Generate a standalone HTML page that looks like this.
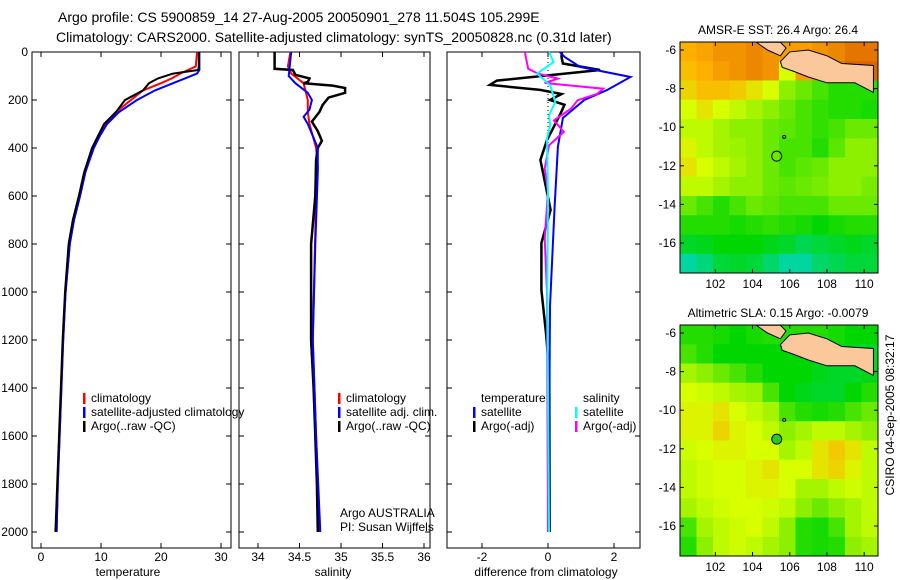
<!DOCTYPE html>
<html><head><meta charset="utf-8"><style>
body{margin:0;background:#fff}
svg{display:block;font-family:"Liberation Sans",sans-serif}
</style></head><body>
<svg id="c" width="900" height="580">
<text x="58" y="22" font-size="14">Argo profile: CS 5900859_14 27-Aug-2005 20050901_278 11.504S 105.299E</text>
<text x="56" y="42" font-size="14">Climatology: CARS2000. Satellite-adjusted climatology: synTS_20050828.nc (0.31d later)</text>
<text transform="translate(894,415) rotate(-90)" text-anchor="middle" font-size="12">CSIRO 04-Sep-2005 08:32:17</text>
</svg>
<script>
const svg=document.getElementById('c');const NS='http://www.w3.org/2000/svg';
function mk(t,a,txt){const e=document.createElementNS(NS,t);for(const k in a)e.setAttribute(k,a[k]);if(txt!=null)e.textContent=txt;svg.appendChild(e);return e;}
// ---- data ----
const tempP=[0,60,75,90,110,130,160,200,250,300,350,400,500,600,700,800,1000,1200,1400,1600,1800,2000];
const tempArgo=[26.3,26.3,26.2,22,19.5,18,17,14,12.5,10.5,9.5,8.5,7.2,6.3,5.3,4.6,4.0,3.6,3.3,3.0,2.7,2.4];
const tempClim=[26.0,25.8,24.5,23.2,21.8,20,17,15,12.5,10.8,9.6,8.7,7.4,6.5,5.5,4.8,4.1,3.7,3.4,3.1,2.8,2.6];
const tempSat=[26.4,26.4,26.4,26,24,22,19,16,13,11,9.8,8.8,7.4,6.5,5.5,4.8,4.1,3.7,3.4,3.1,2.8,2.6];
const salP=[0,70,75,95,110,125,130,140,150,170,190,220,250,290,330,370,400,450,600,800,1000,1200,1400,1600,1800,2000];
const salArgo=[34.2,34.2,34.42,34.45,34.62,34.6,34.55,34.9,35.05,35.05,34.85,34.78,34.74,34.65,34.72,34.77,34.72,34.7,34.69,34.64,34.64,34.64,34.67,34.69,34.71,34.72];
const salClimP=[0,60,90,130,200,250,300,400,480,600,1200,1600,2000];
const salClim=[34.39,34.36,34.4,34.55,34.6,34.6,34.62,34.7,34.72,34.7,34.66,34.7,34.74];
const salSatP=[0,100,130,170,200,240,270,300,400,500,800,1200,1600,2000];
const salSat=[34.4,34.37,34.45,34.6,34.65,34.62,34.55,34.6,34.72,34.72,34.69,34.66,34.7,34.75];
const dTsP=[0,20,62,104,158,200,275,395,645,1060,1500,2000];
const dTsat=[0.36,0.5,0.97,2.5,1.8,1.1,0.45,0.3,0.2,0.06,0.04,0.03];
const dTaP=[0,20,48,75,119,137,158,175,200,220,262,367,450,658,796,992,1171,1338,2000];
const dTargo=[0.42,0.41,0.45,1.58,-1.55,-1.76,-0.24,0.41,0.06,0.5,0.36,-0.03,-0.23,0.08,-0.2,-0.2,-0.06,0.04,0.05];
const dSsP=[0,42,90,139,208,264,306,361,600,1000,2000];
const dSsat=[0.03,0.17,-0.33,0.07,0.22,0.03,0.07,-0.03,0.0,-0.02,0.03];
const dSaP=[0,35,70,90,111,129,153,174,201,236,285,333,389,486,583,778,1000,2000];
const dSargo=[-0.7,-0.65,-0.6,-0.3,0.3,-0.1,1.67,1.5,0.9,0.7,0.18,0.48,0.03,-0.1,0,-0.1,-0.03,0];
const depthTicks=[0,200,400,600,800,1000,1200,1400,1600,1800,2000];
const tTicks=[0,10,20,30];const sTicks=['34','34.5','35','35.5','36'];const dTicks=[-2,0,2];
const lonTicks=[102,104,106,108,110];const latTicks=[-6,-8,-10,-12,-14,-16];
const sstGrid=[
[.75,.77,.8,.8,.82,.8,.78,.78,.8,.82,.85,.85],
[.72,.75,.78,.8,.82,.8,.6,.78,.8,.85,.88,.88],
[.68,.72,.72,.7,.65,.6,.45,.4,.35,.3,.3,.3],
[.6,.65,.6,.55,.5,.45,.4,.35,.32,.3,.3,.28],
[.55,.55,.5,.45,.45,.4,.38,.35,.32,.35,.4,.4],
[.62,.55,.5,.48,.45,.4,.35,.35,.3,.38,.45,.45],
[.65,.6,.55,.5,.45,.4,.35,.38,.4,.45,.45,.45],
[.55,.55,.5,.45,.45,.4,.38,.4,.42,.45,.45,.42],
[.4,.35,.3,.35,.4,.38,.35,.35,.35,.4,.4,.4],
[.3,.3,.3,.28,.3,.32,.3,.28,.25,.28,.3,.3],
[.2,.22,.25,.25,.25,.22,.2,.15,.18,.2,.22,.2],
[.05,.1,.18,.2,.18,.12,.05,.05,.12,.15,.18,.18]];
const slaGrid=[
[.3,.3,.28,.25,.28,.3,.3,.3,.3,.28,.25,.25],
[.35,.3,.25,.25,.25,.25,.25,.25,.25,.22,.2,.2],
[.5,.45,.4,.35,.3,.25,.25,.25,.22,.2,.2,.22],
[.6,.58,.55,.5,.48,.35,.25,.22,.2,.2,.25,.3],
[.62,.62,.65,.6,.55,.5,.35,.3,.28,.3,.35,.4],
[.62,.62,.68,.62,.6,.55,.45,.5,.55,.55,.5,.45],
[.58,.6,.62,.62,.6,.6,.5,.55,.65,.7,.65,.55],
[.55,.58,.6,.6,.62,.65,.6,.6,.65,.68,.62,.55],
[.55,.58,.6,.6,.62,.62,.6,.5,.5,.55,.58,.55],
[.5,.55,.58,.6,.6,.58,.55,.45,.4,.45,.5,.55],
[.35,.5,.55,.58,.6,.55,.45,.3,.28,.35,.5,.55],
[.3,.45,.55,.58,.55,.5,.45,.3,.28,.3,.45,.5]];
const javaLon=[105.5,106,107,108,108.8,110.5,110.5,109.5,108,107,106.2,105.6];
const javaLat=[-6.6,-6.1,-6.0,-6.3,-6.7,-6.8,-8.2,-7.7,-7.7,-7.4,-7.1,-6.9];
const sumLon=[104.2,105.5,105.8,105.5,104.8];const sumLat=[-5.6,-5.6,-5.9,-6.3,-6.0];
const argoLon=105.3,argoLat=-11.5;
// ---- axes ----
const py=p=>52+p*0.24;
const tx=t=>41+t*6, sx=s=>258+(s-34)*83, dx=d=>548+d*33;
const panels=[{x:32,w:199,name:'temperature-panel'},{x:239,w:191,name:'salinity-panel'},{x:447,w:193,name:'difference-panel'}];
panels.forEach(pn=>{
 const r=mk('rect',{x:pn.x,y:52,width:pn.w,height:496,fill:'none',stroke:'#000','stroke-width':1});
 
 depthTicks.forEach(d=>{mk('line',{x1:pn.x,x2:pn.x+5,y1:py(d),y2:py(d),stroke:'#000'});mk('line',{x1:pn.x+pn.w-5,x2:pn.x+pn.w,y1:py(d),y2:py(d),stroke:'#000'});});
});
depthTicks.forEach(d=>{const t=mk('text',{x:28,y:py(d)+4,'text-anchor':'end','font-size':12},d);});
function xt(ticks,f,px,vals){ticks.forEach((tk,i)=>{const v=vals?+tk:tk;const X=f(v);mk('line',{x1:X,x2:X,y1:52,y2:57,stroke:'#000'});mk('line',{x1:X,x2:X,y1:543,y2:548,stroke:'#000'});const t=mk('text',{x:X,y:561,'text-anchor':'middle','font-size':12},tk);});}
xt(tTicks,tx);xt(sTicks,sx,0,true);xt(dTicks,dx);
[['temperature',128],['salinity',333],['difference from climatology',546]].forEach(a=>{const t=mk('text',{x:a[1],y:576,'text-anchor':'middle','font-size':12},a[0]);});
function line(P,V,f,col,w,name){const pts=P.map((p,i)=>f(V[i]).toFixed(1)+','+py(p).toFixed(1)).join(' ');const e=mk('polyline',{points:pts,fill:'none',stroke:col,'stroke-width':w});}
line(tempP,tempClim,tx,'#f00',2,'temp-climatology-line');
line(tempP,tempSat,tx,'#00f',2,'temp-satellite-line');
line(tempP,tempArgo,tx,'#000',2,'temp-argo-line');
line(salClimP,salClim,sx,'#f00',2,'sal-climatology-line');
line(salP,salArgo,sx,'#000',2.5,'sal-argo-line');
line(salSatP,salSat,sx,'#00f',2,'sal-satellite-line');
mk('line',{x1:dx(0),x2:dx(0),y1:58,y2:180,stroke:'#000','stroke-dasharray':'1,3'});
line(dTaP,dTargo,dx,'#000',2.5,'diff-temp-argo-line');
line(dTsP,dTsat,dx,'#00f',2,'diff-temp-satellite-line');
line(dSaP,dSargo,dx,'#f0f',2,'diff-sal-argo-line');
line(dSsP,dSsat,dx,'#0ff',2,'diff-sal-satellite-line');
// legends
function leg(x,y,col,txt){if(col)mk('rect',{x:x,y:y-9,width:2.5,height:11,fill:col});const t=mk('text',{x:x+8,y:y,'font-size':12},txt);}
leg(83,402,'#f00','climatology');leg(83,416,'#00f','satellite-adjusted climatology');leg(83,430,'#000','Argo(..raw -QC)');
leg(338,402,'#f00','climatology');leg(338,416,'#00f','satellite adj. clim.');leg(338,430,'#000','Argo(..raw -QC)');
leg(473,402,null,'temperature');leg(473,416,'#00f','satellite');leg(473,430,'#000','Argo(-adj)');
leg(575,402,null,'salinity');leg(575,416,'#0ff','satellite');leg(575,430,'#f0f','Argo(-adj)');
mk('text',{x:340,y:517,'font-size':12},'Argo AUSTRALIA');mk('text',{x:340,y:531,'font-size':12},'PI: Susan Wijffels');
// maps
const stops=[[0,[0,215,200]],[.25,[0,215,0]],[.45,[140,240,0]],[.6,[215,255,0]],[.75,[255,175,0]],[.9,[215,90,0]]];
function col(v){for(let i=1;i<stops.length;i++){if(v<=stops[i][0]){const a=stops[i-1],b=stops[i],t=(v-a[0])/(b[0]-a[0]);return 'rgb('+a[1].map((c,k)=>Math.round(c+(b[1][k]-c)*t)).join(',')+')';}}return 'rgb(215,90,0)';}
function map(top,grid,title,name,filled){
 const L=680,R=878,B=top+231;const lx=lon=>L+(lon-100.1)*18.6;const ly=lat=>top+8+(-6-lat)*19.3;
 const nr=grid.length,nc=grid[0].length,cw=(R-L)/nc,ch=(B-top)/nr;
 grid.forEach((row,i)=>row.forEach((v,j)=>{const c=mk('rect',{x:L+j*cw,y:top+i*ch,width:cw+.5,height:ch+.5,fill:col(v)});}));
 const lp=(LO,LA)=>LO.map((o,i)=>lx(o)+','+ly(LA[i])).join(' ');
 mk('polygon',{points:lp(javaLon,javaLat),fill:'#fac89a',stroke:'#000'});
 mk('polygon',{points:lp(sumLon,sumLat),fill:'#fac89a',stroke:'#000'});
 mk('circle',{cx:lx(105.7),cy:ly(-10.5),r:1.5,fill:'none',stroke:'#000'});
 const m=mk('circle',{cx:lx(argoLon),cy:ly(argoLat),r:5,fill:filled?'#22cc22':'none',stroke:'#000'});
 const fr=mk('rect',{x:L,y:top,width:R-L,height:B-top,fill:'none',stroke:'#000'});
 lonTicks.forEach(o=>{const X=lx(o);mk('line',{x1:X,x2:X,y1:top,y2:top+4,stroke:'#000'});mk('line',{x1:X,x2:X,y1:B-4,y2:B,stroke:'#000'});mk('text',{x:X,y:B+15,'text-anchor':'middle','font-size':12},o);});
 latTicks.forEach(a=>{const Y=ly(a);mk('line',{x1:L,x2:L+4,y1:Y,y2:Y,stroke:'#000'});mk('line',{x1:R-4,x2:R,y1:Y,y2:Y,stroke:'#000'});mk('text',{x:L-4,y:Y+4,'text-anchor':'end','font-size':12},a);});
 const t=mk('text',{x:778,y:top-8,'text-anchor':'middle','font-size':12},title);
}
map(42,sstGrid,'AMSR-E SST: 26.4 Argo: 26.4','sst-map',false);
map(325,slaGrid,'Altimetric SLA: 0.15 Argo: -0.0079','sla-map',true);
</script>
</body></html>
